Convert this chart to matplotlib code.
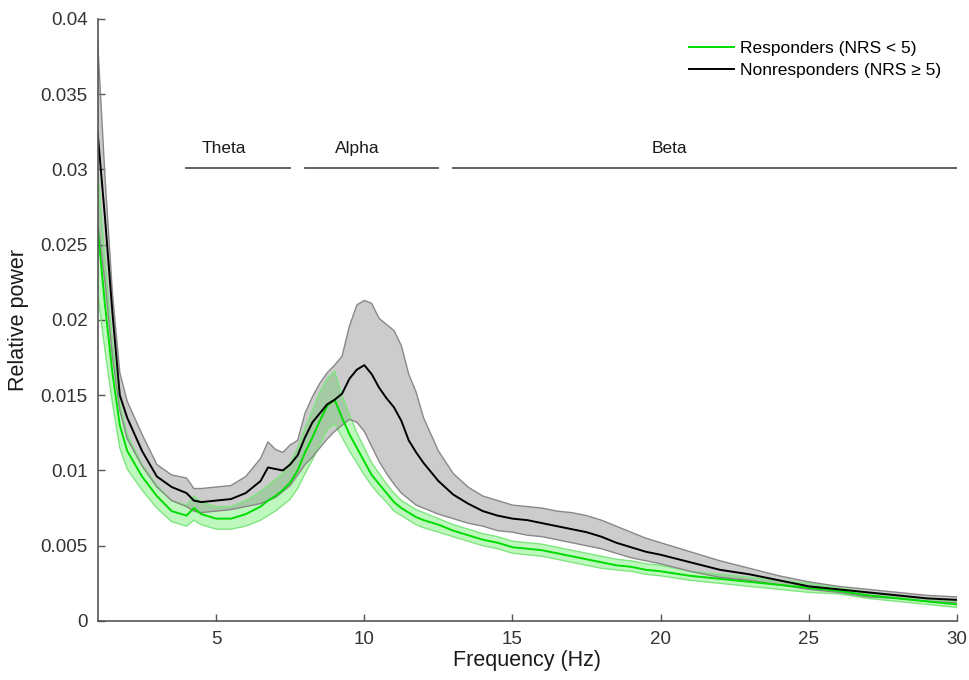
import matplotlib
matplotlib.use("Agg")
import matplotlib.pyplot as plt
import numpy as np

plt.rcParams["font.family"] = ["Liberation Sans", "DejaVu Sans"]

# Frequency grid (Hz)
freq = [1.0, 1.25, 1.5, 1.75, 2.0, 2.5, 3.0, 3.5, 4.0, 4.25, 4.5, 5.0, 5.5, 6.0,
        6.5, 6.75, 7.0, 7.25, 7.5, 7.75, 8.0, 8.25, 8.5, 8.75, 9.0, 9.25, 9.5,
        9.75, 10.0, 10.25, 10.5, 10.75, 11.0, 11.25, 11.5, 11.75, 12.0, 12.5,
        13.0, 13.5, 14.0, 14.5, 15.0, 15.5, 16.0, 16.5, 17.0, 17.5, 18.0, 18.5,
        19.0, 19.5, 20.0, 21.0, 22.0, 23.0, 24.0, 25.0, 26.0, 27.0, 28.0, 29.0, 30.0]

# Nonresponders (NRS >= 5): mean and confidence band
non_mean = [0.0325, 0.0268, 0.0205, 0.0150, 0.0135, 0.0113, 0.0096, 0.0089, 0.0085, 0.0080,
            0.0079, 0.0080, 0.0081, 0.0085, 0.0093, 0.0102, 0.0101, 0.0100, 0.0104, 0.0110,
            0.0122, 0.0132, 0.0138, 0.0144, 0.0147, 0.0151, 0.0161, 0.0167, 0.0170, 0.0164,
            0.0155, 0.0148, 0.0142, 0.0133, 0.0120, 0.0112, 0.0105, 0.0093, 0.0084, 0.0078,
            0.0073, 0.0070, 0.0068, 0.0067, 0.0065, 0.0063, 0.0061, 0.0059, 0.0056, 0.0052,
            0.0049, 0.0046, 0.0044, 0.0039, 0.0034, 0.0031, 0.0027, 0.0023, 0.0021, 0.0019,
            0.0017, 0.0015, 0.0014]
non_upper = [0.0386, 0.0295, 0.0218, 0.0165, 0.0146, 0.0124, 0.0104, 0.0097, 0.0095, 0.0088,
             0.0088, 0.0089, 0.0090, 0.0096, 0.0108, 0.0119, 0.0114, 0.0112, 0.0117, 0.0120,
             0.0138, 0.0149, 0.0158, 0.0165, 0.0170, 0.0176, 0.0196, 0.0210, 0.0213, 0.0211,
             0.0201, 0.0197, 0.0193, 0.0183, 0.0164, 0.0152, 0.0135, 0.0113, 0.0098, 0.0089,
             0.0083, 0.0080, 0.0077, 0.0076, 0.0075, 0.0073, 0.0072, 0.0070, 0.0067, 0.0063,
             0.0059, 0.0055, 0.0052, 0.0046, 0.0040, 0.0035, 0.0030, 0.0026, 0.0023, 0.0021,
             0.0019, 0.0017, 0.0016]
non_lower = [0.0265, 0.0225, 0.0176, 0.0140, 0.0121, 0.0103, 0.0089, 0.0080, 0.0076, 0.0073,
             0.0072, 0.0073, 0.0074, 0.0076, 0.0078, 0.0080, 0.0082, 0.0086, 0.0090, 0.0097,
             0.0104, 0.0109, 0.0115, 0.0121, 0.0126, 0.0130, 0.0134, 0.0132, 0.0126, 0.0116,
             0.0106, 0.0098, 0.0091, 0.0085, 0.0081, 0.0077, 0.0075, 0.0071, 0.0068, 0.0065,
             0.0063, 0.0060, 0.0059, 0.0057, 0.0056, 0.0054, 0.0052, 0.0050, 0.0048, 0.0045,
             0.0042, 0.0040, 0.0038, 0.0033, 0.0029, 0.0027, 0.0024, 0.0021, 0.0019, 0.0016,
             0.0015, 0.0013, 0.0012]

# Responders (NRS < 5): mean and confidence band
res_mean = [0.0262, 0.0210, 0.0165, 0.0130, 0.0113, 0.0096, 0.0083, 0.0073, 0.0070, 0.0075,
            0.0071, 0.0068, 0.0068, 0.0071, 0.0076, 0.0080, 0.0083, 0.0087, 0.0092, 0.0100,
            0.0112, 0.0122, 0.0133, 0.0143, 0.0147, 0.0135, 0.0124, 0.0115, 0.0106, 0.0097,
            0.0091, 0.0085, 0.0079, 0.0075, 0.0072, 0.0069, 0.0067, 0.0064, 0.0060, 0.0057,
            0.0054, 0.0052, 0.0049, 0.0048, 0.0047, 0.0045, 0.0043, 0.0041, 0.0039, 0.0037,
            0.0036, 0.0034, 0.0033, 0.0030, 0.0028, 0.0026, 0.0024, 0.0022, 0.0020, 0.0017,
            0.0015, 0.0013, 0.0011]
res_upper = [0.0300, 0.0240, 0.0185, 0.0145, 0.0124, 0.0104, 0.0090, 0.0080, 0.0077, 0.0083,
             0.0079, 0.0076, 0.0076, 0.0080, 0.0086, 0.0090, 0.0094, 0.0098, 0.0105, 0.0115,
             0.0128, 0.0140, 0.0152, 0.0161, 0.0166, 0.0150, 0.0137, 0.0125, 0.0115, 0.0105,
             0.0098, 0.0091, 0.0085, 0.0080, 0.0077, 0.0074, 0.0072, 0.0068, 0.0064, 0.0061,
             0.0058, 0.0056, 0.0053, 0.0052, 0.0051, 0.0049, 0.0047, 0.0045, 0.0043, 0.0041,
             0.0040, 0.0038, 0.0037, 0.0033, 0.0031, 0.0029, 0.0027, 0.0025, 0.0022, 0.0019,
             0.0017, 0.0015, 0.0013]
res_lower = [0.0218, 0.0180, 0.0145, 0.0115, 0.0101, 0.0087, 0.0075, 0.0066, 0.0063, 0.0067,
             0.0064, 0.0061, 0.0061, 0.0063, 0.0067, 0.0070, 0.0073, 0.0077, 0.0081, 0.0088,
             0.0098, 0.0107, 0.0117, 0.0127, 0.0131, 0.0122, 0.0113, 0.0105, 0.0097, 0.0090,
             0.0084, 0.0079, 0.0073, 0.0070, 0.0067, 0.0064, 0.0062, 0.0059, 0.0056, 0.0053,
             0.0050, 0.0048, 0.0045, 0.0044, 0.0043, 0.0041, 0.0039, 0.0037, 0.0035, 0.0034,
             0.0033, 0.0031, 0.0030, 0.0027, 0.0025, 0.0023, 0.0021, 0.0019, 0.0018, 0.0015,
             0.0013, 0.0011, 0.0009]

# Frequency bands
band_names = ["Theta", "Alpha", "Beta"]
band_start = [4.0, 8.0, 13.0]
band_end = [7.5, 12.5, 30.0]
band_label_x = [5.27, 9.77, 20.3]

axis_gray = "#555555"
text_gray = "#333333"
green = "#00dd00"

fig = plt.figure(figsize=(9.69, 6.80), dpi=100)
ax = fig.add_axes([0.1007, 0.0868, 0.8869, 0.8853])

# confidence bands
ax.fill_between(freq, res_lower, res_upper, facecolor=(0.0, 0.9, 0.0), alpha=0.25, linewidth=0)
ax.plot(freq, res_upper, color="#7fe67f", lw=1)
ax.plot(freq, res_lower, color="#7fe67f", lw=1)
ax.fill_between(freq, non_lower, non_upper, facecolor=(0.5, 0.5, 0.5), alpha=0.4, linewidth=0)
ax.plot(freq, non_upper, color="#888888", lw=1)
ax.plot(freq, non_lower, color="#888888", lw=1)

# means
ax.plot(freq, res_mean, color=green, lw=1.4, label="Responders (NRS < 5)")
ax.plot(freq, non_mean, color="black", lw=1.4, label="Nonresponders (NRS \u2265 5)")

# band markers
for name, x0, x1, xl in zip(band_names, band_start, band_end, band_label_x):
    ax.plot([x0, x1], [0.0301, 0.0301], color="#555555", lw=1.3)
    ax.text(xl, 0.0314, name, ha="center", va="center", fontsize=12.5, color="#1a1a1a")

ax.set_xlim(1, 30)
ax.set_ylim(0, 0.04)
ax.set_xticks([5, 10, 15, 20, 25, 30])
ax.set_yticks(np.arange(0, 0.0401, 0.005))
ax.set_yticklabels(["0", "0.005", "0.01", "0.015", "0.02", "0.025", "0.03", "0.035", "0.04"])

for s in ["top", "right"]:
    ax.spines[s].set_visible(False)
for s in ["left", "bottom"]:
    ax.spines[s].set_color(axis_gray)
    ax.spines[s].set_linewidth(1.2)
ax.tick_params(direction="in", length=5, width=1, color=axis_gray,
               labelsize=13.5, labelcolor=text_gray, pad=7)

ax.set_xlabel("Frequency (Hz)", fontsize=15.5, color="#1a1a1a", labelpad=2)
ax.set_ylabel("Relative power", fontsize=15.5, color="#1a1a1a", labelpad=8)

ax.legend(loc="upper right", bbox_to_anchor=(1.0, 0.99), frameon=False,
          fontsize=12.5, handlelength=2.6, handletextpad=0.35, labelspacing=0.42)

plt.savefig("out.png", dpi=100, facecolor="white")
plt.close()
